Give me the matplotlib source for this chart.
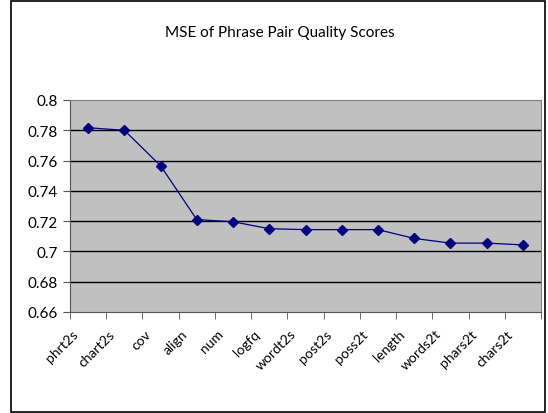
import matplotlib
matplotlib.use("Agg")
import matplotlib.pyplot as plt
import matplotlib.transforms as mtransforms
import numpy as np
from matplotlib.patches import Rectangle

features = ["phrt2s", "chart2s", "cov", "align", "num", "logfq", "wordt2s",
            "post2s", "poss2t", "length", "words2t", "phars2t", "chars2t"]
mse = [0.7817, 0.7800, 0.7566, 0.7210, 0.7196, 0.7150, 0.7144,
       0.7144, 0.7144, 0.7086, 0.7055, 0.7055, 0.7043]
yticks = [0.66, 0.68, 0.7, 0.72, 0.74, 0.76, 0.78, 0.8]

plt.rcParams['font.family'] = ['Lato', 'DejaVu Sans']

fig = plt.figure(figsize=(5.48, 4.14), dpi=100)
# outer chart border
fig.patches.append(Rectangle((11/548, 1/414), 534/548, 411/414, transform=fig.transFigure,
                             fill=False, edgecolor='black', linewidth=1.2))

ax = fig.add_axes([70/548, 1-313/414, 471/548, 212/414])
ax.set_facecolor('#C0C0C0')
x = np.arange(len(features))
ax.plot(x, mse, color='#000080', linewidth=0.9, marker='D', markersize=5,
        markerfacecolor='#000080', markeredgecolor='#000080')

ax.set_xlim(-0.5, len(features) - 0.5)
ax.set_ylim(0.66, 0.8)
ax.set_yticks(yticks)
ax.set_yticklabels([f"{v:g}" for v in yticks], fontsize=11)
for v in yticks[1:-1]:
    ax.axhline(v, color='black', linewidth=1.0, zorder=1)

ax.set_xticks(x)
ax.set_xticklabels(features, rotation=45, ha='right', rotation_mode='anchor', fontsize=10)
ax.tick_params(axis='x', which='major', length=0, pad=11)
# shift labels left like the excel layout
shift = mtransforms.ScaledTranslation(-16/100, 0, fig.dpi_scale_trans)
for lbl in ax.get_xticklabels():
    lbl.set_transform(lbl.get_transform() + shift)
ax.set_xticks(np.arange(-0.5, len(features)), minor=True)
ax.tick_params(axis='x', which='minor', length=5, color='#555555', direction='out')
ax.tick_params(axis='y', length=5, color='#555555', direction='out', pad=4)

for s in ['top', 'right']:
    ax.spines[s].set_color('#808080')
ax.spines['left'].set_color('#555555')
ax.spines['bottom'].set_color('#555555')

fig.text(280/548, 1-33/414, "MSE of Phrase Pair Quality Scores", ha='center', va='center', fontsize=11)

fig.savefig("out.png", dpi=100)
